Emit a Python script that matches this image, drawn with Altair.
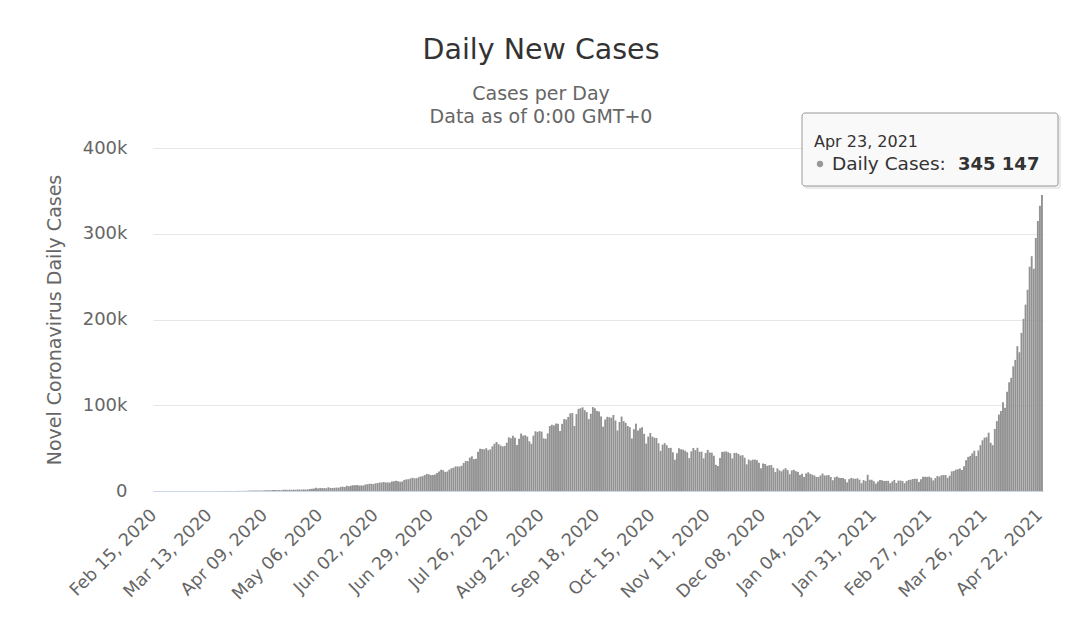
import altair as alt
import pandas as pd

# Daily new cases (month by month)
feb_2020 = [0, 0, 0, 0, 0, 0, 0, 0, 0, 0, 0, 0, 0, 0, 0]
mar_2020 = [0, 2, 1, 22, 2, 1, 3, 5, 9, 15,
            8, 10, 10, 21, 25, 16, 23, 24, 58, 78,
            79, 69, 103, 37, 121, 70, 160, 100, 112, 227,
            146]
apr_2020 = [424, 486, 560, 579, 609, 484, 573, 565, 813, 871,
            854, 758, 1243, 1031, 886, 1061, 922, 1371, 1580, 1239,
            1537, 1292, 1667, 1408, 1835, 1607, 1568, 1902, 1705, 1801]
may_2020 = [2396, 2564, 2952, 3656, 2971, 3602, 3344, 3339, 3175, 4311,
            3592, 3562, 3726, 3991, 3808, 4794, 5049, 4630, 6147, 5553,
            6198, 6568, 6629, 7113, 6414, 6535, 6387, 7466, 7964, 8380,
            8392]
jun_2020 = [8171, 8909, 9304, 9851, 9887, 10438, 9971, 9983, 9987, 11156,
            11458, 11929, 11502, 10667, 11086, 12881, 13586, 13733, 14516, 15413,
            14821, 14933, 15968, 16922, 17296, 18552, 19906, 19459, 18522, 18653]
jul_2020 = [19148, 20903, 22771, 24850, 24248, 22252, 22752, 24879, 26506, 27114,
            28637, 28701, 28498, 29429, 32695, 34956, 34884, 38902, 40425, 37148,
            37724, 45720, 49310, 48916, 48661, 49931, 47703, 48513, 52123, 55079,
            57118]
aug_2020 = [54735, 52972, 52050, 52509, 56282, 62538, 61537, 64399, 62064, 53601,
            60963, 66999, 64553, 65002, 63490, 57981, 55079, 64531, 69652, 68898,
            69878, 69239, 61408, 60975, 67151, 75760, 77266, 76472, 78761, 78512,
            69921]
sep_2020 = [78357, 83883, 83341, 86432, 90632, 90802, 75809, 89706, 95735, 96551,
            97570, 94372, 92071, 83809, 90123, 97894, 96424, 93337, 92605, 86961,
            75083, 83347, 86508, 86052, 85362, 88600, 82170, 70589, 80472, 86821]
oct_2020 = [81484, 79476, 75829, 74442, 61267, 72049, 78524, 70496, 73272, 74383,
            66732, 55342, 63509, 67708, 63371, 62212, 61871, 55722, 46790, 54044,
            55839, 53370, 50129, 50356, 45148, 36469, 43893, 49881, 48648, 48268,
            46963]
nov_2020 = [45231, 38310, 46253, 50210, 47638, 50357, 45674, 45903, 38073, 44281,
            47905, 44879, 44684, 41100, 30548, 29163, 38617, 45576, 45882, 46232,
            45209, 44059, 37975, 44376, 44489, 43082, 41322, 41810, 38772, 31118]
dec_2020 = [36604, 35551, 36595, 36652, 36011, 32981, 26567, 32080, 31522, 29398,
            30006, 30254, 27071, 22065, 26382, 24010, 22890, 25152, 26624, 24337,
            19556, 23950, 24712, 23067, 22273, 18732, 20021, 16432, 20549, 21822,
            20035]
jan_2021 = [19079, 18177, 16505, 16375, 18088, 20346, 18139, 18222, 18645, 16311,
            12584, 15968, 16946, 15590, 15158, 15144, 13788, 10064, 13823, 15223,
            14545, 14256, 14849, 13203, 9102, 12689, 11666, 18855, 13083, 13052,
            11427]
feb_2021 = [8635, 11039, 12899, 12408, 11713, 11831, 11904, 9110, 11067, 12923,
            9309, 12143, 12194, 11649, 9121, 11610, 12881, 13193, 13993, 14264,
            14199, 10584, 13742, 16738, 16577, 16488, 16752, 15510]
mar_2021 = [12286, 14989, 17407, 16838, 18327, 18711, 18599, 15388, 17921, 22854,
            23285, 24882, 25320, 26291, 24492, 28903, 35871, 39726, 40953, 43846,
            46951, 40715, 47262, 53476, 59118, 62258, 62714, 68020, 56211, 53480,
            72330]
apr_2021 = [81466, 89129, 93249, 103558, 96982, 115736, 126789, 131968, 145384, 152879,
            168912, 161736, 184372, 200739, 217353, 234692, 261500, 273810, 259170, 295041,
            314835, 332730, 345147]

month_starts = ["2020-02-15", "2020-03-01", "2020-04-01", "2020-05-01", "2020-06-01",
                "2020-07-01", "2020-08-01", "2020-09-01", "2020-10-01", "2020-11-01",
                "2020-12-01", "2021-01-01", "2021-02-01", "2021-03-01", "2021-04-01"]
month_values = [feb_2020, mar_2020, apr_2020, may_2020, jun_2020, jul_2020, aug_2020,
                sep_2020, oct_2020, nov_2020, dec_2020, jan_2021, feb_2021, mar_2021, apr_2021]

tick_labels = ["Feb 15, 2020", "Mar 13, 2020", "Apr 09, 2020", "May 06, 2020",
               "Jun 02, 2020", "Jun 29, 2020", "Jul 26, 2020", "Aug 22, 2020",
               "Sep 18, 2020", "Oct 15, 2020", "Nov 11, 2020", "Dec 08, 2020",
               "Jan 04, 2021", "Jan 31, 2021", "Feb 27, 2021", "Mar 26, 2021",
               "Apr 22, 2021"]
y_ticks = [0, 100000, 200000, 300000, 400000]

tip_date = "Apr 23, 2021"
tip_label = "Daily Cases: "
tip_value = "345 147"

rows = []
for start, vals in zip(month_starts, month_values):
    for d, v in zip(pd.date_range(start, periods=len(vals)), vals):
        rows.append({"date": d.strftime("%b %d, %Y"), "cases": v})
df = pd.DataFrame(rows)
date_order = list(df["date"])

FONT = "DejaVu Sans"

bars = alt.Chart(df).mark_bar(color="#929292").encode(
    x=alt.X("date:O", sort=date_order, title=None,
            scale=alt.Scale(paddingInner=0.08, paddingOuter=0.05),
            axis=alt.Axis(values=tick_labels, labelAngle=-45, labelAlign="right",
                          labelBaseline="middle", labelPadding=21, ticks=False,
                          domainColor="#ccd6eb", labelColor="#666666",
                          labelFontSize=17.5, labelFont=FONT, grid=False)),
    y=alt.Y("cases:Q", title="Novel Coronavirus Daily Cases",
            scale=alt.Scale(domain=[0, 400000]),
            axis=alt.Axis(values=y_ticks, labelExpr="datum.value == 0 ? '0' : (datum.value / 1000) + 'k'",
                          domain=False, ticks=False, gridColor="#e6e6e6",
                          labelColor="#666666", labelFontSize=18, labelFont=FONT,
                          labelPadding=26, titleColor="#666666", titleFontSize=19,
                          titleFont=FONT, titleFontWeight="normal", titlePadding=18)),
)

one = pd.DataFrame({"k": [0]})
shadow = alt.Chart(one).mark_rect(color="#000000", opacity=0.08, cornerRadius=3).encode(
    x=alt.value(651), x2=alt.value(908), y=alt.value(-33), y2=alt.value(41))
box = alt.Chart(one).mark_rect(fill="#f9f9f9", stroke="#999999", strokeWidth=1, cornerRadius=3).encode(
    x=alt.value(649), x2=alt.value(905), y=alt.value(-35), y2=alt.value(38))
t_date = alt.Chart(one).mark_text(align="left", baseline="alphabetic", fontSize=16,
                                  font=FONT, color="#333333").encode(
    x=alt.value(661), y=alt.value(-1), text=alt.value(tip_date))
dot = alt.Chart(one).mark_point(filled=True, color="#999999", size=40, opacity=1).encode(
    x=alt.value(667), y=alt.value(16))
t_label = alt.Chart(one).mark_text(align="left", baseline="alphabetic", fontSize=18.5,
                                   font=FONT, color="#333333").encode(
    x=alt.value(679), y=alt.value(22), text=alt.value(tip_label))
t_value = alt.Chart(one).mark_text(align="left", baseline="alphabetic", fontSize=18,
                                   font=FONT, fontWeight="bold", color="#333333").encode(
    x=alt.value(805), y=alt.value(22), text=alt.value(tip_value))

chart = alt.layer(bars, shadow, box, t_date, dot, t_label, t_value).properties(
    width=890, height=343,
    autosize=alt.AutoSizeParams(type="none"),
    padding={"left": 145, "top": 140, "right": 20, "bottom": 122},
    title=alt.TitleParams(text="Daily New Cases",
                          subtitle=["Cases per Day", "Data as of 0:00 GMT+0"],
                          fontSize=28.5, font=FONT, fontWeight="normal", color="#333333",
                          subtitleFontSize=19, subtitleFont=FONT, subtitleColor="#666666",
                          subtitleLineHeight=23, subtitlePadding=20,
                          anchor="middle", frame="group", dx=-57, dy=36, offset=22),
).configure(background="white").configure_view(stroke=None)

chart.save("out.html", embed_options={"renderer": "svg", "actions": False})
